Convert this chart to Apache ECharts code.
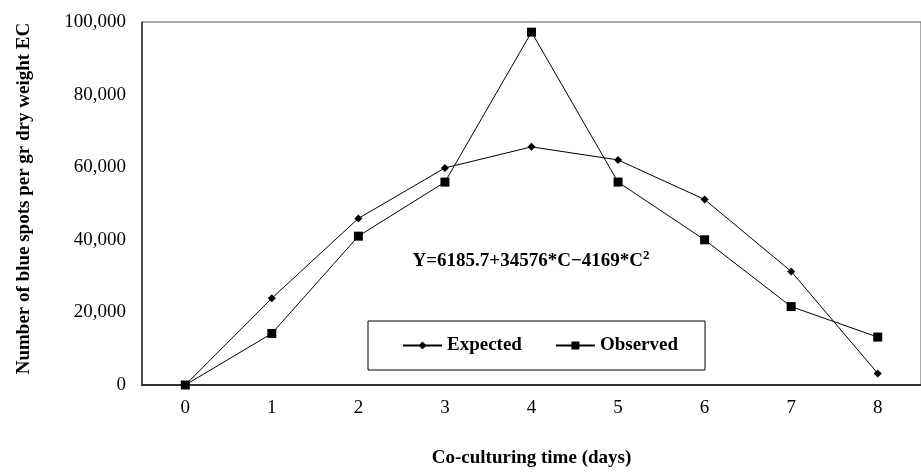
<!DOCTYPE html>
<html>
<head>
<meta charset="utf-8">
<script src="https://cdn.jsdelivr.net/npm/echarts@6/dist/echarts.min.js"></script>
<style>
html,body{margin:0;padding:0;background:#fff;}
#chart{width:921px;height:473px;}
</style>
</head>
<body>
<div id="chart"></div>
<script>
const categories = ['0', '1', '2', '3', '4', '5', '6', '7', '8'];
const expected = [0, 23900, 45900, 59800, 65600, 62000, 51100, 31300, 3200];
const observed = [0, 14200, 41000, 55900, 97200, 55900, 40000, 21600, 13200];
const yTicks = { min: 0, max: 100000, interval: 20000 };
const formulaBase = 'Y=6185.7+34576*C\u22124169*C';
const formulaSup = '2';
const xTitle = 'Co-culturing time (days)';
const yTitle = 'Number of blue spots per gr dry weight EC';

const FONT = 'Liberation Serif';
const chart = echarts.init(document.getElementById('chart'));

function fmt(v) {
  return String(v).replace(/\B(?=(\d{3})+(?!\d))/g, ',');
}

chart.setOption({
  animation: false,
  backgroundColor: '#fff',
  grid: {
    left: 142, top: 22, right: -9, bottom: 83,
    show: true, borderColor: '#555', borderWidth: 1, backgroundColor: 'transparent'
  },
  legend: {
    left: 368, top: 321,
    padding: [15, 27, 15, 34],
    borderColor: '#000', borderWidth: 1,
    itemWidth: 39, itemHeight: 10, itemGap: 33,
    textStyle: { fontFamily: FONT, fontWeight: 'bold', fontSize: 19, color: '#000', lineHeight: 19 },
    data: ['Expected', 'Observed']
  },
  xAxis: {
    type: 'category',
    data: categories,
    boundaryGap: true,
    name: xTitle,
    nameLocation: 'middle',
    nameGap: 64,
    nameTextStyle: { fontFamily: FONT, fontWeight: 'bold', fontSize: 19, color: '#000' },
    axisLine: { lineStyle: { color: '#333', width: 2 } },
    axisTick: { show: false },
    axisLabel: { fontFamily: FONT, fontSize: 19, color: '#000', margin: 14 },
    splitLine: { show: false }
  },
  yAxis: {
    type: 'value',
    min: yTicks.min, max: yTicks.max, interval: yTicks.interval,
    name: yTitle,
    nameLocation: 'middle',
    nameGap: 108,
    nameTextStyle: { fontFamily: FONT, fontWeight: 'bold', fontSize: 19, color: '#000', padding: [0, 0, 0, 10] },
    axisLine: { show: true, lineStyle: { color: '#333', width: 1.5 } },
    axisTick: { show: false },
    axisLabel: { fontFamily: FONT, fontSize: 19, color: '#000', margin: 16, formatter: fmt },
    splitLine: { show: false }
  },
  series: [
    {
      name: 'Expected', type: 'line', data: expected,
      symbol: 'diamond', symbolSize: 8,
      lineStyle: { color: '#000', width: 1 },
      itemStyle: { color: '#000' }
    },
    {
      name: 'Observed', type: 'line', data: observed,
      symbol: 'rect', symbolSize: 9,
      lineStyle: { color: '#000', width: 1 },
      itemStyle: { color: '#000' }
    }
  ],
  graphic: [
    {
      type: 'text', z: 100,
      x: 531, y: 260,
      style: {
        text: '{b|' + formulaBase + '}{s|' + formulaSup + '}',
        fontFamily: FONT, fontWeight: 'bold', fontSize: 19, fill: '#000',
        align: 'center', verticalAlign: 'middle',
        rich: {
          b: { fontFamily: FONT, fontWeight: 'bold', fontSize: 19, fill: '#000', lineHeight: 22, verticalAlign: 'bottom' },
          s: { fontFamily: FONT, fontWeight: 'bold', fontSize: 13, fill: '#000', lineHeight: 22, verticalAlign: 'top' }
        }
      }
    }
  ]
});
</script>
</body>
</html>
